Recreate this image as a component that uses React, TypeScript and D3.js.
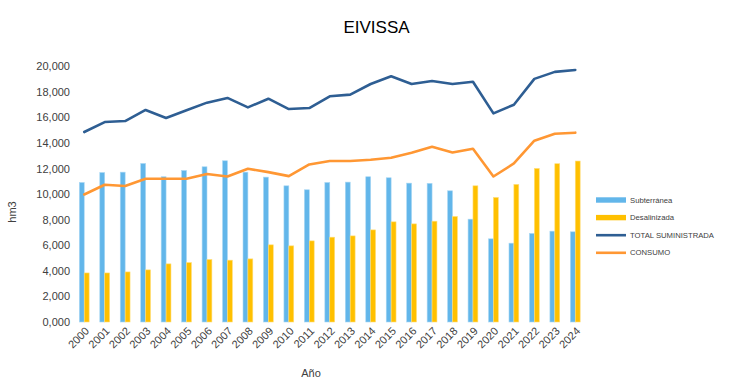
import React from "react";
import * as d3 from "d3";

const years = ["2000","2001","2002","2003","2004","2005","2006","2007","2008","2009","2010","2011","2012","2013","2014","2015","2016","2017","2018","2019","2020","2021","2022","2023","2024"];
const subterranea = [10920,11700,11730,12410,11370,11860,12150,12620,11730,11340,10660,10350,10920,10950,11370,11290,10870,10850,10270,8050,6510,6170,6930,7110,7060];
const desalinizada = [3840,3840,3920,4080,4550,4650,4890,4840,4940,6040,5960,6350,6640,6740,7210,7840,7680,7890,8260,10660,9750,10770,12020,12390,12600];
const totalSuministrada = [14870,15650,15730,16600,15970,16570,17170,17540,16800,17480,16670,16750,17670,17800,18630,19230,18630,18870,18630,18810,16330,17010,19030,19580,19730];
const consumo = [9980,10740,10640,11210,11210,11210,11580,11390,12000,11730,11420,12330,12600,12600,12700,12860,13250,13720,13270,13560,11390,12410,14190,14740,14820];
const yTicks = [0,2000,4000,6000,8000,10000,12000,14000,16000,18000,20000];
const legendItems = [
  { label: "Subterránea", kind: "bar", color: "#62B6EA" },
  { label: "Desalinizada", kind: "bar", color: "#FFC000" },
  { label: "TOTAL SUMINISTRADA", kind: "line", color: "#2E5E93" },
  { label: "CONSUMO", kind: "line", color: "#FF9733" },
];

const W = 753, H = 384;
const left = 74, right = 585.5, top = 66.5, bottom = 322;
const font = "'Liberation Sans', Arial, sans-serif";

export default function App() {
  const x = d3.scaleBand().domain(years).range([left, right]).padding(0);
  const y = d3.scaleLinear().domain([0, 20000]).range([bottom, top]);
  const bw = 4.9;
  const cx = (yr: string) => (x(yr) as number) + x.bandwidth() / 2;
  const line = d3.line<number>().x((_, i) => cx(years[i])).y(v => y(v));
  const tickLabel = (v: number) => (v === 0 ? "0,000" : d3.format(",")(v));

  return (
    <svg width={W} height={H} style={{ position: "absolute", left: 0, top: 0, background: "#fff" }} fontFamily={font}>
      <text x={376.5} y={33} textAnchor="middle" fontSize={17} fill="#000">EIVISSA</text>
      {yTicks.map(t => (
        <text key={t} x={70} y={y(t)} dy="0.35em" textAnchor="end" fontSize={11} fill="#404040">{tickLabel(t)}</text>
      ))}
      <text transform={`translate(16,${212}) rotate(-90)`} textAnchor="middle" fontSize={11} fill="#404040">hm3</text>
      {years.map((yr, i) => (
        <g key={yr}>
          <rect x={cx(yr) - bw} y={y(subterranea[i])} width={bw} height={y(0) - y(subterranea[i])} fill="#62B6EA" stroke="#A9D8F4" strokeWidth={0.6} />
          <rect x={cx(yr)} y={y(desalinizada[i])} width={bw} height={y(0) - y(desalinizada[i])} fill="#FFC000" stroke="#FFDE7A" strokeWidth={0.6} />
        </g>
      ))}
      <path d={line(totalSuministrada) || ""} fill="none" stroke="#2E5E93" strokeWidth={2.6} strokeLinejoin="round" strokeLinecap="round" />
      <path d={line(consumo) || ""} fill="none" stroke="#FF9733" strokeWidth={2.6} strokeLinejoin="round" strokeLinecap="round" />
      {years.map(yr => (
        <text key={yr} transform={`translate(${cx(yr) + 3},${329}) rotate(-45)`} textAnchor="end" dy="0.35em" fontSize={11} fill="#404040">{yr}</text>
      ))}
      <text x={311} y={377} textAnchor="middle" fontSize={11} fill="#404040">Año</text>
      {legendItems.map((it, i) => {
        const ly = 200 + i * 17.6;
        return (
          <g key={it.label}>
            {it.kind === "bar"
              ? <rect x={596} y={ly - 2.7} width={30} height={5.4} fill={it.color} />
              : <line x1={596} x2={626} y1={ly} y2={ly} stroke={it.color} strokeWidth={2.6} />}
            <text x={630} y={ly} dy="0.35em" fontSize={7.7} fill="#404040">{it.label}</text>
          </g>
        );
      })}
    </svg>
  );
}
